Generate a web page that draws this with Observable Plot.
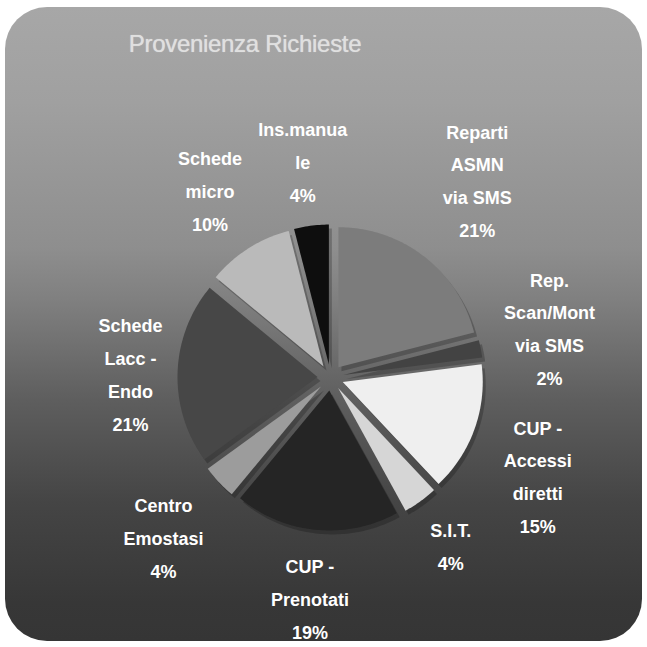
<!DOCTYPE html>
<html><head><meta charset="utf-8">
<script src="https://cdn.jsdelivr.net/npm/d3@7"></script>
<script src="https://cdn.jsdelivr.net/npm/@observablehq/plot@0.6"></script>
<style>
html,body{margin:0;padding:0;background:#fff;}
#wrap{position:relative;width:647px;height:647px;overflow:hidden;}
#bg{position:absolute;left:5px;top:7px;width:637px;height:634px;border-radius:42px;
  background:linear-gradient(to bottom,#a7a7a7 0%,#a0a0a0 15%,#8e8e8e 38%,#808080 46%,#5e5e5e 62%,#454545 78%,#373737 94%,#353535 100%);}
#title{position:absolute;left:0;top:30px;width:490px;text-align:center;
  font-family:"Liberation Sans",Arial,sans-serif;font-size:24px;color:#e0e0e0;letter-spacing:-0.3px;
  text-shadow:0 0 1px rgba(230,230,230,0.8);}
#chart{position:absolute;left:0;top:0;}
</style></head><body>
<div id="wrap"><div id="bg"></div><div id="title">Provenienza Richieste</div><div id="chart"></div></div>
<script>
// ---- data ----
const categories = ["Reparti ASMN via SMS","Rep. Scan/Mont via SMS","CUP - Accessi diretti","S.I.T.","CUP - Prenotati","Centro Emostasi","Schede Lacc - Endo","Schede micro","Ins.manuale"];
const wrappedNames = ["Reparti\nASMN\nvia SMS","Rep.\nScan/Mont\nvia SMS","CUP -\nAccessi\ndiretti","S.I.T.","CUP -\nPrenotati","Centro\nEmostasi","Schede\nLacc -\nEndo","Schede\nmicro","Ins.manua\nle"];
const values = [21,2,15,4,19,4,21,10,4];
const shades = ["#7c7c7c","#434343","#efefef","#d6d6d6","#252525","#9c9c9c","#474747","#bababa","#0e0e0e"];

// ---- geometry ----
const W = 647, H = 647, cx = 330, cy = 377, k = 140; // px per data unit (radius = 1)
const explode = 13 / k;
const total = d3.sum(values);
let cum = 0;
const slices = values.map((v, i) => {
  const a0 = 2 * Math.PI * cum / total; cum += v;
  const a1 = 2 * Math.PI * cum / total;
  return {cat: categories[i], v, a0, a1, mid: (a0 + a1) / 2, i};
});
const pts = [];
for (const s of slices) {
  const ox = explode * Math.sin(s.mid), oy = explode * Math.cos(s.mid);
  pts.push({cat: s.cat, x: ox, y: oy});
  const n = Math.max(2, Math.ceil((s.a1 - s.a0) / (Math.PI / 180)));
  for (let j = 0; j <= n; j++) {
    const a = s.a0 + (s.a1 - s.a0) * j / n;
    pts.push({cat: s.cat, x: ox + Math.sin(a), y: oy + Math.cos(a)});
  }
}

// label placement (outside, Excel-like: box edge at fixed distance, then de-overlap)
const ctx = document.createElement("canvas").getContext("2d");
ctx.font = "bold 18px 'Liberation Sans', Arial, sans-serif";
const lineH = 33, base = 166, pad = 16;
const boxes = slices.map(s => {
  const text = wrappedNames[s.i] + "\n" + s.v + "%";
  const lines = text.split("\n");
  const w = d3.max(lines, l => ctx.measureText(l).width);
  const h = lines.length * lineH;
  const ux = Math.sin(s.mid), uy = -Math.cos(s.mid); // pixel directions
  const d = base + Math.abs(ux) * w / 2 + Math.abs(uy) * h / 2;
  return {text, w, h, px: ux * d, py: uy * d};
});
for (let it = 0; it < 60; it++) {
  for (let a = 0; a < boxes.length; a++) for (let b = a + 1; b < boxes.length; b++) {
    const A = boxes[a], B = boxes[b];
    if (Math.abs(A.px - B.px) >= (A.w + B.w) / 2) continue;
    const need = (A.h + B.h) / 2 + pad - Math.abs(A.py - B.py);
    if (need > 0) {
      const sgn = A.py < B.py ? -1 : 1;
      A.py += sgn * need / 2; B.py -= sgn * need / 2;
    }
  }
}
const labels = boxes.map(b => ({text: b.text, x: b.px / k, y: -b.py / k}));

const chart = Plot.plot({
  width: W, height: H, margin: 0,
  x: {domain: [-cx / k, (W - cx) / k], axis: null},
  y: {domain: [-(H - cy) / k, cy / k], axis: null},
  color: {domain: categories, range: shades},
  style: {background: "transparent"},
  marks: [
    Plot.line(pts, {x: "x", y: "y", z: "cat", fill: "#000", fillOpacity: 0.22, stroke: "none", dx: 3, dy: 4}),
    Plot.line(pts, {x: "x", y: "y", z: "cat", fill: "cat", stroke: "none"}),
    Plot.text(labels, {x: "x", y: "y", text: "text", fill: "white", fontWeight: "bold", fontSize: 18,
      lineHeight: 1.83, fontFamily: "'Liberation Sans', Arial, sans-serif", textAnchor: "middle", lineAnchor: "middle"})
  ]
});
document.getElementById("chart").appendChild(chart);
</script>
</body></html>
